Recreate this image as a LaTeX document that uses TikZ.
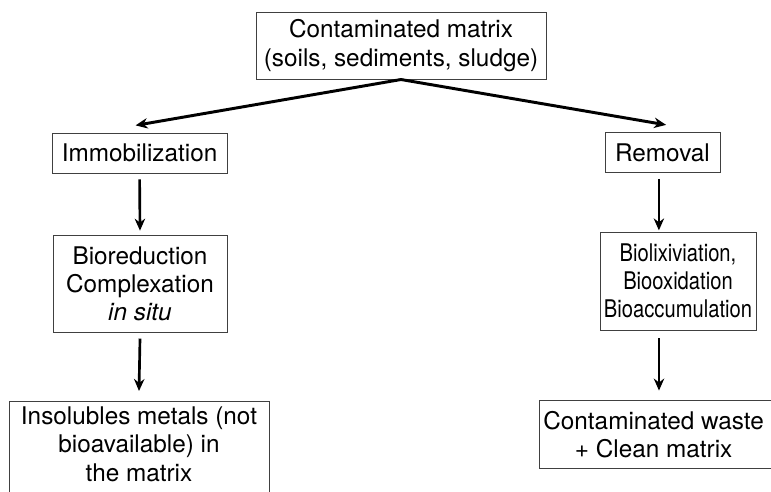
\documentclass[tikz,border=0pt]{standalone}
\usepackage{fontspec}
\setmainfont{TeX Gyre Heros}
\newfontfamily\narrowfont{TeX Gyre Heros}[FakeStretch=0.83]
\usetikzlibrary{arrows.meta}

\begin{document}
\begin{tikzpicture}[
    box/.style={rectangle, draw=black!75, line width=0.6pt, align=center, inner sep=2pt, font=\fontsize{17.3}{20}\selectfont},
    narrowbox/.style={box, font=\fontsize{17.3}{20}\narrowfont},
    outline/.style={draw=black!75, line width=0.6pt},
    arrow/.style={-{Stealth[length=0.3cm, width=0.26cm]}, line width=1.9pt},
    branch/.style={arrow, line width=2.1pt}
]
\useasboundingbox (0,0) rectangle (19.275,-12.3);
\clip (0,0) rectangle (19.275,-12.3);

% Source
\node[box, minimum width=7.25cm, minimum height=1.675cm] (matrix) at (10.025,-1.14) {Contaminated matrix\\(soils, sediments, sludge)};

% Left branch
\node[box, minimum width=4.375cm, minimum height=1cm] (immob) at (3.49,-3.825) {Immobilization};
\node[box, minimum width=4.35cm, minimum height=2.425cm] (biored) at (3.5,-7.09) {Bioreduction\\Complexation\\\textit{in situ}};
\node[box, minimum width=6.5cm, text depth=1.2cm, inner sep=4pt, anchor=north] (insol) at (3.475,-10.025) {Insolubles metals (not\\bioavailable) in\\the matrix};

% Right branch
\node[box, minimum width=2.875cm, minimum height=1cm] (removal) at (16.5625,-3.8125) {Removal};
\node[narrowbox, minimum width=3.9cm, minimum height=2.45cm] (biolix) at (16.95,-7.025) {Biolixiviation,\\Biooxidation\\Bioaccumulation};
\node[box, draw=none, minimum width=5.7cm, minimum height=1.675cm] (waste) at (16.34,-10.8625) {Contaminated waste\\+ Clean matrix};
\draw[outline] (waste.north west) rectangle ([xshift=0.4cm]waste.south east);

% Split
\draw[branch] (matrix.south) -- ([xshift=-0.1cm, yshift=0.18cm]immob.north);
\draw[branch] (matrix.south) -- ([xshift=0.09cm, yshift=0.18cm]removal.north);

% Left flow
\draw[arrow] ([yshift=-0.15cm]immob.south) -- ([yshift=0.1cm]biored.north);
\draw[arrow] ([yshift=-0.15cm]biored.south) -- ([yshift=0.25cm]insol.north);

% Right flow
\draw[arrow] ([xshift=-0.09cm, yshift=-0.15cm]removal.south) coordinate (r1) -- ([yshift=0.03cm]r1 |- biolix.north);
\draw[arrow] ([xshift=-0.475cm, yshift=-0.2cm]biolix.south) coordinate (r2) -- ([yshift=0.25cm]r2 |- waste.north);

\end{tikzpicture}
\end{document}
